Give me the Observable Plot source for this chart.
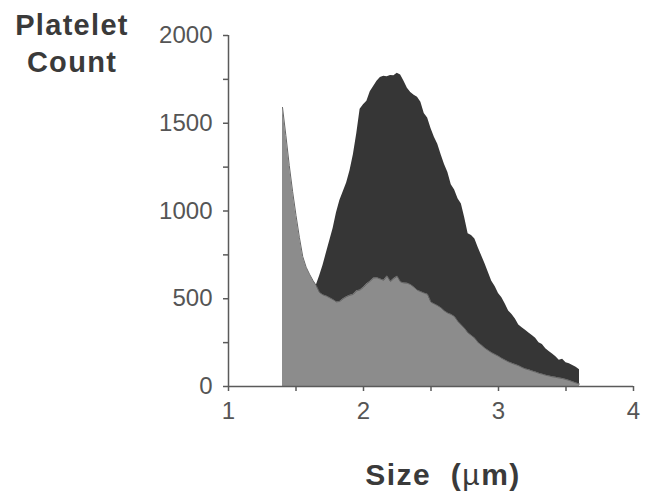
<!DOCTYPE html>
<html>
<head>
<meta charset="utf-8">
<script src="https://cdn.jsdelivr.net/npm/d3@7"></script>
<script src="https://cdn.jsdelivr.net/npm/@observablehq/plot@0.6"></script>
<style>
  html, body { margin: 0; padding: 0; background: #fff; }
  #chart { width: 649px; height: 496px; }
  svg { font-family: "Liberation Sans", Arial, Helvetica, sans-serif; }
</style>
</head>
<body>
<div id="chart"></div>
<script>
// Size (µm) sample positions for the light distribution
const lightSize = [1.400,1.425,1.450,1.475,1.500,1.525,1.550,1.575,1.600,1.625,1.650,1.675,1.700,1.725,1.750,1.775,1.800,1.825,1.850,1.875,1.900,1.925,1.950,1.975,2.000,2.025,2.050,2.075,2.100,2.125,2.150,2.175,2.200,2.225,2.250,2.275,2.300,2.325,2.350,2.375,2.400,2.425,2.450,2.475,2.500,2.525,2.550,2.575,2.600,2.625,2.650,2.675,2.700,2.725,2.750,2.775,2.800,2.825,2.850,2.875,2.900,2.925,2.950,2.975,3.000,3.025,3.050,3.075,3.100,3.125,3.150,3.175,3.200,3.225,3.250,3.275,3.300,3.325,3.350,3.375,3.400,3.425,3.450,3.475,3.500,3.525,3.550,3.575,3.600];
const lightCount = [1590,1430,1260,1110,975,850,740,680,640,605,575,535,522,515,505,495,482,485,500,512,520,525,545,550,565,585,600,618,620,612,605,630,598,615,628,595,590,588,580,565,548,540,532,525,480,470,460,448,430,418,410,398,370,350,330,305,290,275,250,235,218,205,192,182,172,160,150,140,132,125,118,108,100,95,88,82,75,70,64,60,55,52,48,45,40,34,27,20,14];

// Dark distribution
const darkSize = [1.650,1.675,1.700,1.725,1.750,1.775,1.800,1.825,1.850,1.875,1.900,1.925,1.950,1.975,2.000,2.025,2.050,2.075,2.100,2.125,2.150,2.175,2.200,2.225,2.250,2.275,2.300,2.325,2.350,2.375,2.400,2.425,2.450,2.475,2.500,2.525,2.550,2.575,2.600,2.625,2.650,2.675,2.700,2.725,2.750,2.775,2.800,2.825,2.850,2.875,2.900,2.925,2.950,2.975,3.000,3.025,3.050,3.075,3.100,3.125,3.150,3.175,3.200,3.225,3.250,3.275,3.300,3.325,3.350,3.375,3.400,3.425,3.450,3.475,3.500,3.525,3.550,3.575,3.600];
const darkCount = [575,630,690,760,830,900,990,1060,1110,1160,1230,1320,1440,1580,1605,1625,1680,1710,1740,1760,1768,1765,1772,1770,1785,1775,1740,1700,1675,1660,1648,1620,1555,1530,1470,1420,1380,1320,1265,1220,1150,1120,1070,1040,960,870,860,840,790,745,700,650,600,570,530,505,470,430,410,385,350,335,320,305,290,275,250,240,215,200,185,170,150,155,135,130,120,110,95];

const yTicks = [0,250,500,750,1000,1250,1500,1750,2000];
const xTicks = [1,1.5,2,2.5,3,3.5,4];
const yTitle = ["Platelet", "Count"];
const xTitleParts = ["Size  (", "\u00b5", "m)"];

const light = lightSize.map((s, i) => ({size: s, count: lightCount[i]}));
const dark = darkSize.map((s, i) => ({size: s, count: darkCount[i]}));

const axisColor = "#5a5a5a";

const plot = Plot.plot({
  width: 649,
  height: 496,
  marginLeft: 228,
  marginRight: 16,
  marginTop: 35,
  marginBottom: 110,
  style: {fontSize: "24px", color: "#555", background: "#fff", fontFamily: "'Liberation Sans', Arial, Helvetica, sans-serif"},
  x: {domain: [1, 4]},
  y: {domain: [0, 2000]},
  marks: [
    Plot.areaY(dark, {x: "size", y: "count", fill: "#363636", curve: "linear"}),
    Plot.areaY(light, {x: "size", y: "count", fill: "#8c8c8c", curve: "linear"}),
    Plot.lineY(light, {x: "size", y: "count", stroke: "#666", strokeWidth: 1}),
    Plot.ruleY([0], {stroke: axisColor, strokeWidth: 1.5}),
    Plot.ruleX([1], {y1: 0, y2: 2000, stroke: axisColor, strokeWidth: 1.5}),
    Plot.axisY({ticks: yTicks, tickSize: 5, tickPadding: 11, label: null, fontSize: 24,
      tickFormat: d => d % 500 === 0 ? String(d) : "", stroke: axisColor, strokeWidth: 1.5, fill: "#555"}),
    Plot.axisX({ticks: xTicks, tickSize: 5, tickPadding: 10, label: null, fontSize: 24,
      tickFormat: d => Number.isInteger(d) ? String(d) : "", stroke: axisColor, strokeWidth: 1.5, fill: "#555"})
  ]
});

const svg = d3.select(plot);
const titleFont = 29;
svg.append("text").attr("x", 72).attr("y", 35).attr("text-anchor", "middle")
  .attr("font-size", titleFont).attr("font-weight", "bold").attr("letter-spacing", 1.3).attr("fill", "#3a3a3a").text(yTitle[0]);
svg.append("text").attr("x", 72).attr("y", 72).attr("text-anchor", "middle")
  .attr("font-size", titleFont).attr("font-weight", "bold").attr("letter-spacing", 1.3).attr("fill", "#3a3a3a").text(yTitle[1]);
const xt = svg.append("text").attr("x", 443).attr("y", 485).attr("text-anchor", "middle")
  .attr("font-size", 30).attr("font-weight", "bold").attr("letter-spacing", 1.5).attr("fill", "#3a3a3a")
  .attr("xml:space", "preserve").style("white-space", "pre");
xt.append("tspan").text(xTitleParts[0]);
xt.append("tspan").attr("font-weight", "normal").text(xTitleParts[1]);
xt.append("tspan").text(xTitleParts[2]);

document.getElementById("chart").appendChild(plot);
</script>
</body>
</html>
